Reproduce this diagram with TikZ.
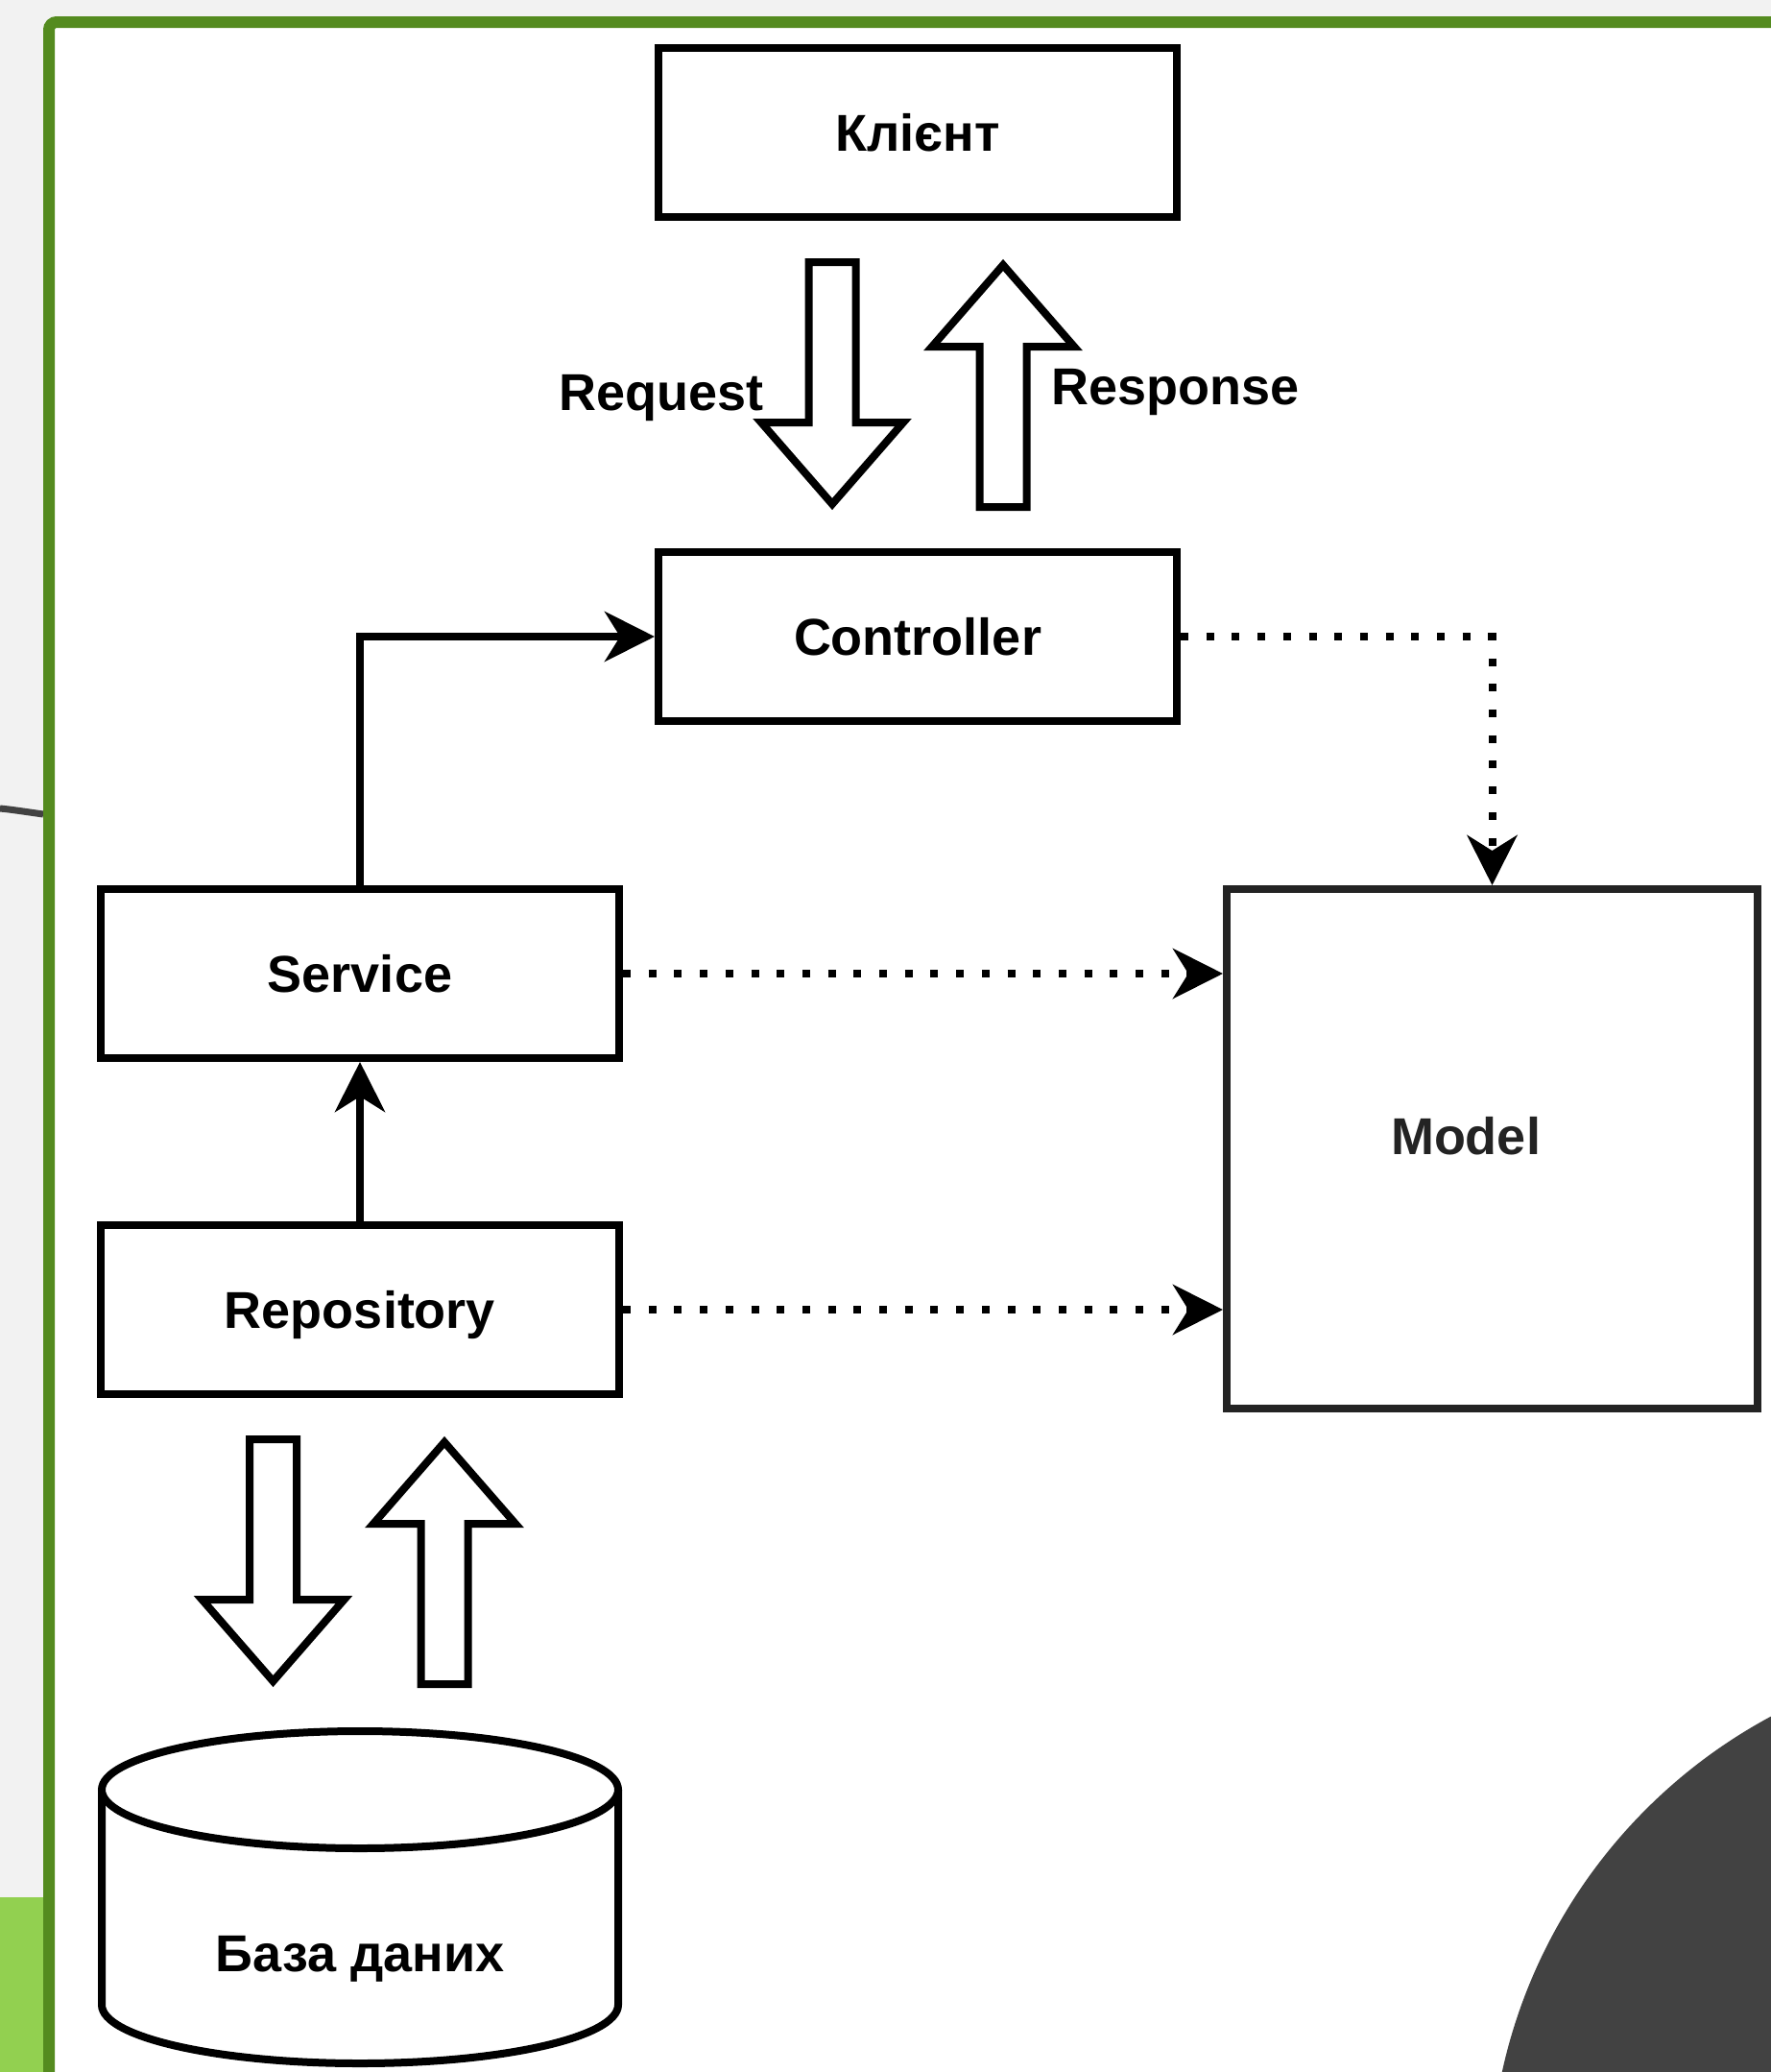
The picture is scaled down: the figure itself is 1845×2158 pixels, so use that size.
\documentclass[tikz,border=0pt]{standalone}
\usepackage{fontspec}
\setmainfont{Liberation Sans}
\usetikzlibrary{arrows.meta}
\usepackage{xcolor}

\definecolor{framegreen}{RGB}{84,139,31}
\definecolor{lightgreen}{RGB}{146,208,80}
\definecolor{pagegray}{RGB}{242,242,242}
\definecolor{darkdisc}{RGB}{66,66,66}
\definecolor{modelgray}{RGB}{35,35,35}

\newcommand{\labelfont}{\fontsize{27}{32}\selectfont\bfseries}

\tikzset{
	labeltext/.style={font=\labelfont, text height=21.6pt, text depth=2.2pt, inner sep=0pt},
	box/.style={draw, line width=4pt, minimum width=270pt, minimum height=88pt, labeltext},
	conn/.style={line width=4pt, -{Stealth[length=26pt, width=26pt, inset=8pt]}},
	dots/.style={conn, dash pattern=on 4pt off 9.35pt},
	blockarrow/.style={line width=4pt, fill=white}
}

\begin{document}
\begin{tikzpicture} [x=0.5pt, y=-0.5pt] %app layers
\def \blockdown{-- ++(49,0) -- ++(0,167) -- ++(49.5,0) -- ++(-74,85) -- ++(-74,-85) -- ++(49.5,0) -- cycle}
\def \blockup{-- ++(49,0) -- ++(0,-167) -- ++(49.5,0) -- ++(-74,-85) -- ++(-74,85) -- ++(49.5,0) -- cycle}

\useasboundingbox (0,0) rectangle (1845,2158);

	%slide behind the picture
\begin{scope}
\clip (0,0) rectangle (1845,2158);
\fill [pagegray] (0,0) rectangle (1845,2158);
\fill [lightgreen] (0,1976) rectangle (45,2158);
\draw [darkdisc, line width=3.5pt] (0,842) .. controls (10,843) .. (45,848);
\filldraw [framegreen, fill=white, line width=6pt, rounded corners=4pt] (51,23) rectangle (1950,2300);
\fill [darkdisc] (2107,2277) circle [radius=555];
\end{scope}

	%boxes
\node [box] (client) at (956,138) {Клієнт};
\node [box] (controller) at (956,663) {Controller};
\node [box] (service) at (375,1014) {Service};
\node [box] (repository) at (375,1364) {Repository};
\node [box, draw=modelgray, minimum width=276.5pt, minimum height=270.5pt,
	label={[labeltext, text=modelgray, xshift=-13.75pt, yshift=6.75pt]center:Model}] (model) at (1554.5,1196.5) {};

	%request and response
\draw [blockarrow] (842.5,273) \blockdown;
\draw [blockarrow] (1020.5,528) \blockup;
\node [font=\labelfont, anchor=base] (request) at (689,427) {Request};
\node [font=\labelfont, anchor=base] (response) at (1224.5,421) {Response};

	%database
\draw [line width=4pt, fill=white] (106,1864) -- (106,2088) arc [start angle=180, end angle=0, x radius=269, y radius=61] -- (644,1864);
\draw [line width=4pt, fill=white] (375,1864) ellipse [x radius=269, y radius=61];
\node [labeltext] (db) at (375,2034) {База даних};
\draw [blockarrow] (260,1499) \blockdown;
\draw [blockarrow] (438.5,1754) \blockup;

	%connectors
\draw [conn] (service.north) |- (controller.west);
\draw [conn] (repository.north) -- (service.south);
\draw [dots] (controller.east) -| (model.north);
\draw [dots] (service.east) -- (service.east -| model.west);
\draw [dots] (repository.east) -- (repository.east -| model.west);

\end{tikzpicture}
\end{document}
